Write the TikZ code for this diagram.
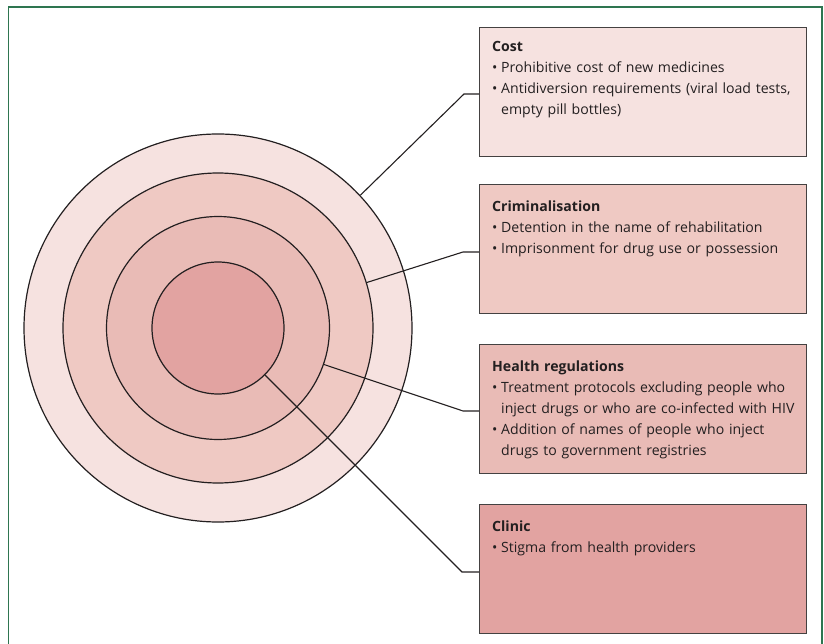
\documentclass[tikz,border=0pt]{standalone}
\usepackage{fontspec}
\setmainfont{Open Sans}
\definecolor{ringA}{HTML}{F6E2E0}
\definecolor{ringB}{HTML}{EFC9C3}
\definecolor{ringC}{HTML}{E9BBB6}
\definecolor{ringD}{HTML}{E2A3A1}
\definecolor{edge}{HTML}{231F20}
\definecolor{frame}{HTML}{2E7550}
\newcommand{\bul}{\makebox[9pt][l]{•}}
\newcommand{\ind}{\makebox[9pt][l]{}}
\begin{document}
\begin{tikzpicture}[x=1pt,y=-1pt,
  ring/.style={circle,draw=edge,line width=1.2pt,inner sep=0pt,minimum size=#1},
  factbox/.style={rectangle,draw=edge!85,line width=1pt,minimum width=327pt,minimum height=129pt,anchor=north west,inner sep=0pt},
  facttext/.style={anchor=base west,inner sep=0pt,text width=312pt,align=left,font=\fontsize{14.1}{21}\selectfont,text=edge},
  link/.style={draw=edge,line width=1.1pt}]
\useasboundingbox (0,0) rectangle (824,644);
\draw[frame,line width=1.3pt] (8.5,644) -- (8.5,7) -- (822,7) -- (822,644);
% circles
\node[ring=388pt,fill=ringA] (rA) at (218,328) {};
\node[ring=310pt,fill=ringB] (rB) at (218,328) {};
\node[ring=223pt,fill=ringC] (rC) at (218,328) {};
\node[ring=132pt,fill=ringD] (rD) at (218,328) {};
% boxes
\node[factbox,fill=ringA] (cost) at (479,27) {};
\node[factbox,fill=ringB] (crim) at (479,184) {};
\node[factbox,fill=ringC] (heal) at (479,344) {};
\node[factbox,fill=ringD] (clin) at (479,504) {};
\node[facttext] (tcost) at (492,52) {\textbf{Cost}\\ \bul Prohibitive cost of new medicines\\ \bul Antidiversion requirements (viral load tests,\\ \ind empty pill bottles)};
\node[facttext] (tcrim) at (492,211.5) {\textbf{Criminalisation}\\ \bul Detention in the name of rehabilitation\\ \bul Imprisonment for drug use or possession};
\node[facttext] (theal) at (492,371.5) {\textbf{Health regulations}\\ \bul Treatment protocols excluding people who\\ \ind inject drugs or who are co-infected with HIV\\ \bul Addition of names of people who inject\\ \ind drugs to government registries};
\node[facttext] (tclin) at (492,531.5) {\textbf{Clinic}\\ \bul Stigma from health providers};
% connectors
\coordinate (kA) at (464,94);
\coordinate (kB) at (463,252);
\coordinate (kC) at (463,411);
\coordinate (kD) at (462,572);
\draw[link] (rA.43) -- (kA) -- (cost.west |- kA);
\draw[link] (rB.17) -- (kB) -- (crim.west |- kB);
\draw[link] (rC.-19.5) -- (kC) -- (heal.west |- kC);
\draw[link] (rD.-45) -- (kD) -- (clin.west |- kD);
\end{tikzpicture}
\end{document}
